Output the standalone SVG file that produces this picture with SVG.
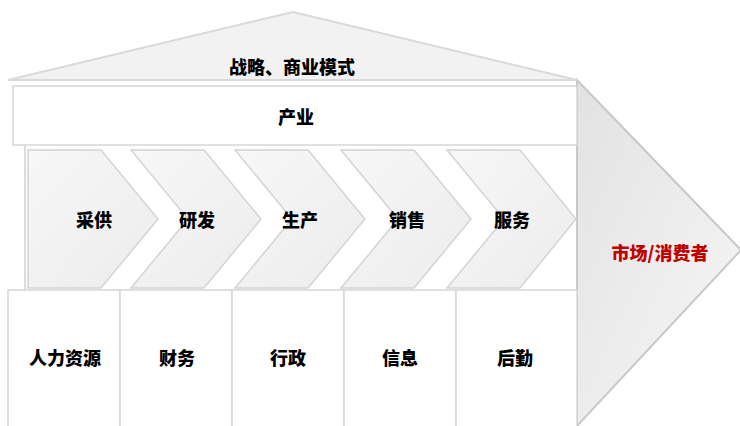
<svg xmlns="http://www.w3.org/2000/svg" width="740" height="426" viewBox="0 0 740 426">
<style>
.t{font-family:"Noto Sans CJK SC","Noto Sans",sans-serif;font-weight:900;font-size:18px;fill:#000;text-anchor:middle;dominant-baseline:central}
.chev{fill:url(#cg);stroke:#d4d4d4;stroke-width:1.5}
.box{fill:#fff;stroke:#d6d6d6;stroke-width:1.5}
</style>
<defs>
<linearGradient id="cg" x1="0" y1="0" x2="1" y2="1">
<stop offset="0" stop-color="#f7f7f7"/><stop offset="1" stop-color="#ececec"/>
</linearGradient>
<linearGradient id="ag" x1="0" y1="0" x2="1" y2="1">
<stop offset="0" stop-color="#e2e2e2"/><stop offset="1" stop-color="#f7f7f7"/>
</linearGradient>
</defs>
<g id="arrow-market">
<polygon points="577,80 741,250 577,426" fill="url(#ag)" stroke="#c8c8c8" stroke-width="2"/>
<text class="t" x="660" y="252" style="fill:#c00000">市场/消费者</text>
</g>
<g id="roof">
<polygon points="8,80 293,12 577,80" fill="#f2f2f2" stroke="#d9d9d9" stroke-width="2"/>
<text class="t" x="292" y="66">战略、商业模式</text>
</g>
<g id="industry">
<rect class="box" x="13" y="86" width="564" height="59"/>
<text class="t" x="296" y="116">产业</text>
</g>
<g id="chain-frame">
<line x1="25" y1="145" x2="25" y2="290" stroke="#d0d0d0" stroke-width="1.5"/>
</g>
<g id="chev1"><polygon class="chev" points="28,150 101,150 158,219 101,288 28,288 28,219"/><text class="t" x="94" y="219">采供</text></g>
<g id="chev2"><polygon class="chev" points="131,150 204,150 261,219 204,288 131,288 188,219"/><text class="t" x="197" y="219">研发</text></g>
<g id="chev3"><polygon class="chev" points="235,150 308,150 365,219 308,288 235,288 292,219"/><text class="t" x="300" y="219">生产</text></g>
<g id="chev4"><polygon class="chev" points="341,150 414,150 471,219 414,288 341,288 398,219"/><text class="t" x="407" y="219">销售</text></g>
<g id="chev5"><polygon class="chev" points="447,150 520,150 576,219 520,288 447,288 504,219"/><text class="t" x="512" y="219">服务</text></g>
<g id="hr"><rect class="box" x="8" y="290" width="112" height="140"/><text class="t" x="65" y="357">人力资源</text></g>
<g id="finance"><rect class="box" x="120" y="290" width="112" height="140"/><text class="t" x="177" y="357">财务</text></g>
<g id="admin"><rect class="box" x="232" y="290" width="112" height="140"/><text class="t" x="288" y="357">行政</text></g>
<g id="info"><rect class="box" x="344" y="290" width="112" height="140"/><text class="t" x="400" y="357">信息</text></g>
<g id="logistics"><rect class="box" x="456" y="290" width="121" height="140"/><text class="t" x="515" y="357">后勤</text></g>
<g id="connectors"></g>
</svg>
